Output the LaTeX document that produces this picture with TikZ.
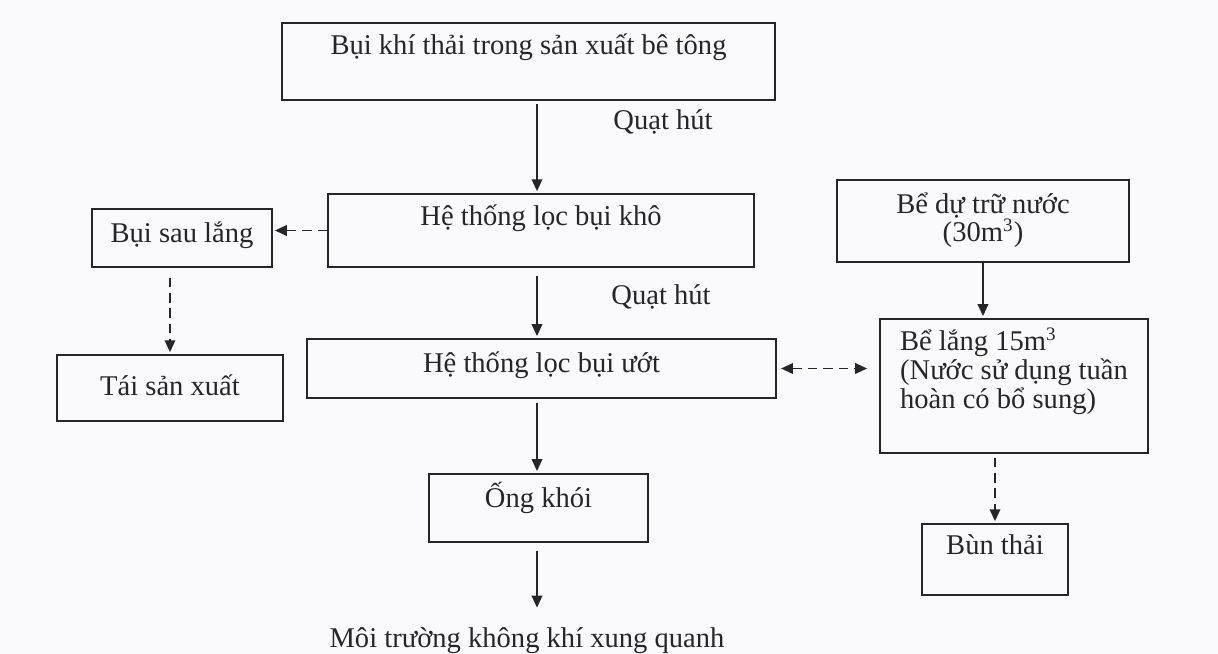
\documentclass[tikz,border=0pt]{standalone}
\usepackage{fontspec}
\setmainfont{Liberation Serif}
\usetikzlibrary{arrows.meta,positioning,calc}
\definecolor{inkgray}{RGB}{38,38,40}
\definecolor{pagebg}{RGB}{250,250,252}

\begin{document}
\begin{tikzpicture}[x=0.42pt,y=-0.42pt,
    >={Triangle[length=5pt,width=4.4pt]},
    box/.style={draw=inkgray,line width=0.8pt,inner ysep=0pt,text=inkgray,
      font=\fontsize{12}{12}\selectfont},
    txt/.style={text=inkgray,inner sep=0pt,font=\fontsize{12}{12}\selectfont},
    arr/.style={->,line width=0.8pt,draw=inkgray,shorten <=1.5pt,shorten >=0.8pt},
    darr/.style={arr,dash pattern=on 4pt off 2.5pt}
  ]
    \fill[pagebg] (0,0) rectangle (1218,654);
    \useasboundingbox (0,0) rectangle (1218,654);
    \coordinate (axis) at (537,0);
    % main column
    \node[box,minimum width=207.1pt,text height=13.4pt,text depth=18.9pt] (dust) at (528.5,61.5) {Bụi khí thải trong sản xuất bê tông};
    \node[box,minimum width=178.9pt,text height=13.0pt,text depth=17.6pt] (dry) at (541,230.5) {Hệ thống lọc bụi khô};
    \node[box,minimum width=197.0pt,text height=13.9pt,text depth=10.9pt] (wet) at (541.5,368.5) {Hệ thống lọc bụi ướt};
    \node[box,minimum width=92.0pt,text height=14.3pt,text depth=14.3pt] (stack) at (538.5,508) {Ống khói};
    \node[txt,anchor=base] (air) at (527,648) {Môi trường không khí xung quanh};
    \node[txt,anchor=base] (fan1) at (663,130) {Quạt hút};
    \node[txt,anchor=base] (fan2) at (661,305) {Quạt hút};
    % left branch
    \node[box,minimum width=75.6pt,text height=14.3pt,text depth=10.1pt] (settled) at (182,238) {Bụi sau lắng};
    \node[box,minimum width=94.9pt,text height=16.8pt,text depth=10.9pt] (reuse) at (170,388) {Tái sản xuất};
    % water branch
    \node[box,align=center,minimum width=122.6pt,text height=26.0pt,text depth=8.4pt] (reserve) at (983,221) {Bể dự trữ nước\\(30m\textsuperscript{3})};
    \node[box,align=left,minimum width=112.6pt,text height=37.4pt,text depth=18.9pt] (settle) at (1014,386) {Bể lắng 15m\textsuperscript{3}\\(Nước sử dụng tuần\\hoàn có bổ sung)};
    \node[box,minimum width=61.3pt,text height=13.0pt,text depth=16.8pt] (sludge) at (995,559.5) {Bùn thải};
    % connectors
    \draw[arr] (dust.south -| axis) -- (dry.north -| axis);
    \draw[arr,shorten <=3.4pt] (dry.south -| axis) -- (wet.north -| axis);
    \draw[arr] (wet.south -| axis) -- (stack.north -| axis);
    \draw[arr,shorten <=3.4pt,shorten >=8.4pt] (stack.south -| axis) -- (air.north -| axis);
    \draw[darr,shorten <=0pt] (dry.west) -- (dry.west -| settled.east);
    \draw[darr,shorten <=4pt] (settled.south -| reuse) -- (reuse.north);
    \draw[darr,<->,shorten <=1.7pt,shorten >=5pt] (wet.east) -- (wet.east -| settle.west);
    \draw[arr,shorten <=0pt] (reserve.south) -- (reserve.south |- settle.north);
    \draw[darr] (settle.south -| sludge) -- (sludge.north);
  \end{tikzpicture}
\end{document}
